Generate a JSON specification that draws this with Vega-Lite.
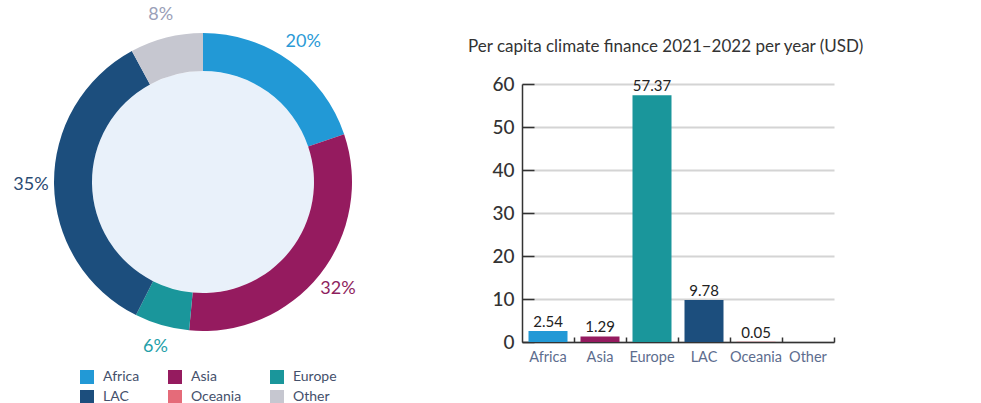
{
  "$schema": "https://vega.github.io/schema/vega-lite/v6.json",
  "padding": 0,
  "background": "white",
  "config": {"view": {"stroke": null}, "font": "Lato"},
  "datasets": {
    "regions": [
      {"region": "Africa", "share": 20, "label": "20%", "pc": 2.54, "ord": 1},
      {"region": "Asia", "share": 32, "label": "32%", "pc": 1.29, "ord": 2},
      {"region": "Europe", "share": 6, "label": "6%", "pc": 57.37, "ord": 3},
      {"region": "LAC", "share": 35, "label": "35%", "pc": 9.78, "ord": 4},
      {"region": "Oceania", "share": 0, "label": "", "pc": 0.05, "ord": 5},
      {"region": "Other", "share": 8, "label": "8%", "pc": null, "ord": 6}
    ]
  },
  "spacing": 61,
  "hconcat": [
    {
      "width": 406,
      "height": 196,
      "data": {"name": "regions"},
      "layer": [
        {
          "data": {"values": [{"part": "inner"}]},
          "mark": {"type": "arc", "radius": 111, "theta": 0, "theta2": 6.2832, "fill": "#e9f1fa"},
          "encoding": {}
        },
        {
          "mark": {"type": "arc", "radius": 149, "radius2": 111},
          "encoding": {
            "theta": {"field": "share", "type": "quantitative", "stack": true},
            "order": {"field": "ord", "type": "quantitative"},
            "color": {
              "field": "region",
              "type": "nominal",
              "scale": {
                "domain": ["Africa", "Asia", "Europe", "LAC", "Oceania", "Other"],
                "range": ["#2299d6", "#951b5f", "#1a969b", "#1c4e7d", "#e56b79", "#c6c7d0"]
              },
              "legend": {
                "title": null,
                "orient": "none",
                "direction": "horizontal",
                "legendX": 80,
                "legendY": 286,
                "columns": 3,
                "symbolType": "square",
                "symbolSize": 196,
                "symbolStrokeWidth": 0,
                "labelFontSize": 14,
                "labelColor": "#44506b",
                "labelOffset": 9,
                "columnPadding": 28,
                "rowPadding": 6
              }
            }
          }
        },
        {
          "mark": {"type": "text", "radius": 172, "fontSize": 18},
          "encoding": {
            "theta": {"field": "share", "type": "quantitative", "stack": true},
            "order": {"field": "ord", "type": "quantitative"},
            "text": {"field": "label"},
            "color": {
              "field": "region",
              "type": "nominal",
              "scale": {
                "domain": ["Africa", "Asia", "Europe", "LAC", "Oceania", "Other"],
                "range": ["#2b9ad6", "#8e1f5e", "#24a0a8", "#2a4a72", "#e56b79", "#9aa0b8"]
              },
              "legend": null
            }
          }
        }
      ],
      "resolve": {"scale": {"color": "independent"}}
    },
    {
      "width": 312,
      "height": 258,
      "data": {"name": "regions"},
      "title": {
        "text": ["", "Per capita climate finance 2021–2022 per year (USD)"],
        "anchor": "start",
        "dx": -24,
        "fontSize": 17,
        "fontWeight": "normal",
        "color": "#333333",
        "lineHeight": 38,
        "offset": 19
      },
      "encoding": {
        "x": {
          "field": "region",
          "type": "nominal",
          "sort": null,
          "scale": {"domain": ["Africa", "Asia", "Europe", "LAC", "Oceania", "Other"], "paddingInner": 0, "paddingOuter": 0},
          "axis": {
            "title": null,
            "labelAngle": 0,
            "labelFontSize": 14.5,
            "labelColor": "#5d6d8e",
            "labelPadding": 13,
            "domainColor": "#333333",
            "domainWidth": 1.5,
            "tickColor": "#333333",
            "tickWidth": 1.5,
            "tickSize": -5,
            "bandPosition": 1
          }
        },
        "y": {
          "field": "pc",
          "type": "quantitative",
          "scale": {"domain": [0, 60]},
          "axis": {
            "title": null,
            "values": [0, 10, 20, 30, 40, 50, 60],
            "labelFontSize": 19,
            "labelColor": "#333333",
            "labelFontWeight": 500,
            "labelPadding": 20,
            "domainColor": "#333333",
            "domainWidth": 1.5,
            "tickColor": "#333333",
            "tickWidth": 1.5,
            "tickSize": -12,
            "gridColor": "#d4d4d4",
            "gridWidth": 2
          }
        }
      },
      "layer": [
        {
          "mark": {"type": "bar", "width": {"band": 0.75}},
          "encoding": {
            "color": {
              "field": "region",
              "type": "nominal",
              "scale": {
                "domain": ["Africa", "Asia", "Europe", "LAC", "Oceania", "Other"],
                "range": ["#2299d6", "#951b5f", "#1a969b", "#1c4e7d", "#e56b79", "#c6c7d0"]
              },
              "legend": null
            }
          }
        },
        {
          "mark": {"type": "text", "baseline": "bottom", "dy": -1, "fontSize": 15, "color": "#222222"},
          "encoding": {
            "text": {"field": "pc", "type": "quantitative", "format": ".2f"}
          }
        }
      ]
    }
  ]
}
